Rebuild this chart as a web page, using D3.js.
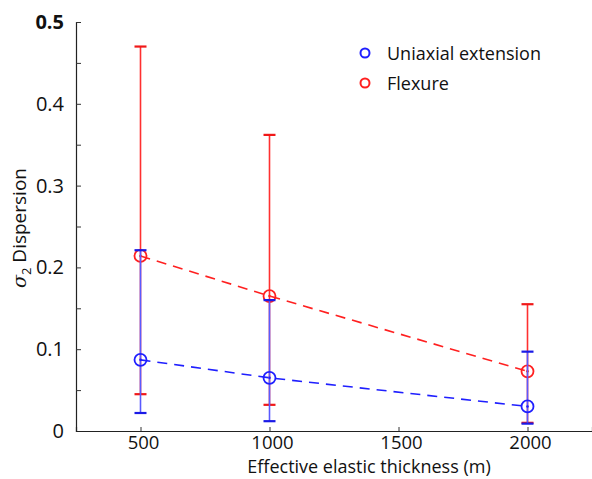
<!DOCTYPE html>
<html>
<head>
<meta charset="utf-8">
<script src="https://cdn.jsdelivr.net/npm/d3@7"></script>
<style>
  body { margin: 0; background: #fff; }
  text { font-family: "Open Sans", "Noto Sans", sans-serif; fill: #111; }
</style>
</head>
<body>
<svg id="chart" width="592" height="479"></svg>
<script>
// data
var thickness = [500, 1000, 2000]
var uniaxialMean = [0.087, 0.065, 0.030]
var uniaxialLow = [0.022, 0.012, 0.009]
var uniaxialHigh = [0.221, 0.160, 0.097]
var flexureMean = [0.214, 0.165, 0.073]
var flexureLow = [0.045, 0.032, 0.010]
var flexureHigh = [0.470, 0.362, 0.155]
var xTicks = [500, 1000, 1500, 2000]
var yTicks = [0, 0.1, 0.2, 0.3, 0.4, 0.5]

var svg = d3.select("#chart")

var x = d3.scaleLinear().domain([250, 2250]).range([76, 592])
var y = d3.scaleLinear().domain([0, 0.5]).range([431, 22])

// axes: left and bottom only, ticks pointing inward
var yAxis = d3.axisLeft(y).tickValues(d3.range(0, 0.501, 0.05)).tickSize(-5).tickFormat("")
svg.append("g").attr("transform", "translate(76,0)").call(yAxis)
    .call(g => g.select(".domain").attr("stroke", "#222").attr("stroke-width", 1.2))
    .call(g => g.selectAll(".tick line").attr("stroke", "#333"))

svg.append("g").selectAll("text").data(yTicks).enter().append("text")
    .attr("x", 64).attr("y", d => y(d) + 7)
    .attr("text-anchor", "end")
    .attr("font-size", 20)
    .attr("font-weight", d => d == 0.5 ? "bold" : "normal")
    .text(d => d == 0 ? "0" : d3.format(".1f")(d))

var xAxis = d3.axisBottom(x).tickValues(xTicks).tickSize(-4).tickFormat("")
svg.append("g").attr("transform", "translate(0,431)").call(xAxis)
    .call(g => g.select(".domain").attr("stroke", "#222").attr("stroke-width", 1.2))
    .call(g => g.selectAll(".tick line").attr("stroke", "#333"))

svg.append("g").selectAll("text").data(xTicks).enter().append("text")
    .attr("x", d => x(d) + 3).attr("y", 449)
    .attr("text-anchor", "middle")
    .attr("font-size", 18.5)
    .text(d => d)

svg.append("text")
    .attr("x", 369).attr("y", 473)
    .attr("text-anchor", "middle")
    .attr("font-size", 18)
    .text("Effective elastic thickness (m)")

var ylab = svg.append("text")
    .attr("transform", "translate(26,228) rotate(-90)")
    .attr("text-anchor", "middle")
    .attr("font-size", 19)
ylab.append("tspan").attr("font-style", "italic").attr("font-family", "DejaVu Serif").text("σ")
ylab.append("tspan").attr("font-size", 13).attr("dy", 5).text("2")
ylab.append("tspan").attr("dy", -5).text(" Dispersion")

// one series: error bars, dashed line, markers
function drawSeries(mean, low, high, barColor, capColor, lineColor) {
    var pts = thickness.map((t, i) => ({t: t, m: mean[i], lo: low[i], hi: high[i]}))
    var g = svg.append("g")

    g.selectAll(".bar").data(pts).enter().append("line")
        .attr("x1", d => x(d.t)).attr("x2", d => x(d.t))
        .attr("y1", d => y(d.lo)).attr("y2", d => y(d.hi))
        .attr("stroke", barColor).attr("stroke-width", 1.6)

    g.selectAll(".capLo").data(pts).enter().append("line")
        .attr("x1", d => x(d.t) - 6).attr("x2", d => x(d.t) + 6)
        .attr("y1", d => y(d.lo)).attr("y2", d => y(d.lo))
        .attr("stroke", capColor).attr("stroke-width", 2.2)

    g.selectAll(".capHi").data(pts).enter().append("line")
        .attr("x1", d => x(d.t) - 6).attr("x2", d => x(d.t) + 6)
        .attr("y1", d => y(d.hi)).attr("y2", d => y(d.hi))
        .attr("stroke", capColor).attr("stroke-width", 2.2)

    var line = d3.line().x(d => x(d.t)).y(d => y(d.m))
    g.append("path").datum(pts)
        .attr("d", line)
        .attr("fill", "none")
        .attr("stroke", lineColor)
        .attr("stroke-width", 1.6)
        .attr("stroke-dasharray", "10,7")

    g.selectAll(".mark").data(pts).enter().append("circle")
        .attr("cx", d => x(d.t)).attr("cy", d => y(d.m))
        .attr("r", 6)
        .attr("fill", "none")
        .attr("stroke", lineColor).attr("stroke-width", 1.8)

    g.selectAll(".dot").data(pts).enter().append("circle")
        .attr("cx", d => x(d.t)).attr("cy", d => y(d.m))
        .attr("r", 1.3)
        .attr("fill", lineColor)
}

drawSeries(flexureMean, flexureLow, flexureHigh, "#ff3030", "#f01818", "#ff2020")
drawSeries(uniaxialMean, uniaxialLow, uniaxialHigh, "#5a5aff", "#1a1ae6", "#1f1fff")

// legend
var legendNames = ["Uniaxial extension", "Flexure"]
var legendColors = ["#1f1fff", "#ff2020"]
var legend = svg.append("g").selectAll("g").data(legendNames).enter().append("g")
    .attr("transform", (d, i) => "translate(365," + (53 + i * 30) + ")")
legend.append("circle").attr("r", 4.5)
    .attr("fill", "none").attr("stroke-width", 2)
    .attr("stroke", (d, i) => legendColors[i])
legend.append("text").attr("x", 22).attr("y", 6.5)
    .attr("font-size", 18)
    .text(d => d)
</script>
</body>
</html>
